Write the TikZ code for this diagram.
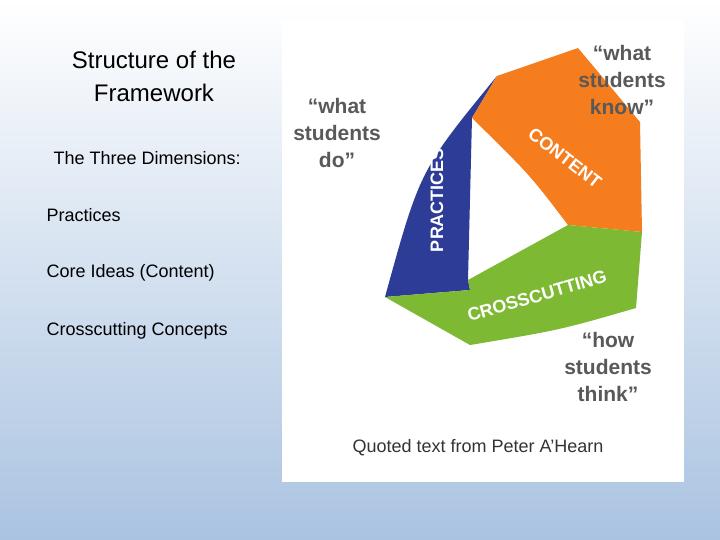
\documentclass[tikz,border=0pt]{standalone}
\usepackage{fontspec}
\setmainfont{Liberation Sans}
\definecolor{bgb}{RGB}{170,195,225}
\definecolor{pblue}{RGB}{45,60,150}
\definecolor{corange}{RGB}{245,125,30}
\definecolor{xgreen}{RGB}{125,185,50}
\begin{document}
\begin{tikzpicture}[x=1pt,y=-1pt,
  lt/.style={anchor=west,font=\fontsize{18}{21}\selectfont,text=black},
  qt/.style={align=center,font=\bfseries\fontsize{21}{27}\selectfont,text=gray!70!black},
  band/.style={font=\bfseries\fontsize{18}{20}\selectfont,text=white}]
\shade[top color=white,bottom color=bgb] (0,0) rectangle (720,540);
\useasboundingbox (0,0) rectangle (720,540);
\fill[white] (282,20) rectangle (684,482);
\coordinate (A) at (472,118);
\coordinate (B) at (468,280);
\coordinate (C) at (568,225);
\fill[pblue] (497,76) .. controls (420,170) .. (385,297) -- (470,290) -- (B) -- (A) -- cycle;
\fill[corange] (497,76) -- (578,48) -- (640,122) -- (642,232) -- (C) .. controls (530,175) .. (A) -- cycle;
\fill[xgreen] (B) -- (C) -- (642,232) -- (636,308) .. controls (560,330) .. (470,345) -- (385,297) -- (470,290) -- cycle;
\node[band,rotate=90] (p) at (437,200) {PRACTICES};
\node[band,rotate=-38] (c) at (565,158) {CONTENT};
\node[band,rotate=16] (x) at (537,296) {CROSSCUTTING};
\node[align=center,font=\fontsize{24}{33}\selectfont] (t) at (154,76) {Structure of the\\Framework};
\node[lt] (l1) at (50,158) {The Three Dimensions:};
\node[lt] (l2) at (43,215) {Practices};
\node[lt] (l3) at (43,273) {Core Ideas (Content)};
\node[lt] (l4) at (43,331) {Crosscutting Concepts};
\node[qt] (q1) at (622,80) {“what\\students\\know”};
\node[qt] (q2) at (337,133) {“what\\students\\do”};
\node[qt] (q3) at (608,367) {“how\\students\\think”};
\node[font=\fontsize{18}{21}\selectfont,text=black!80] (src) at (478,448) {Quoted text from Peter A’Hearn};
\end{tikzpicture}
\end{document}
